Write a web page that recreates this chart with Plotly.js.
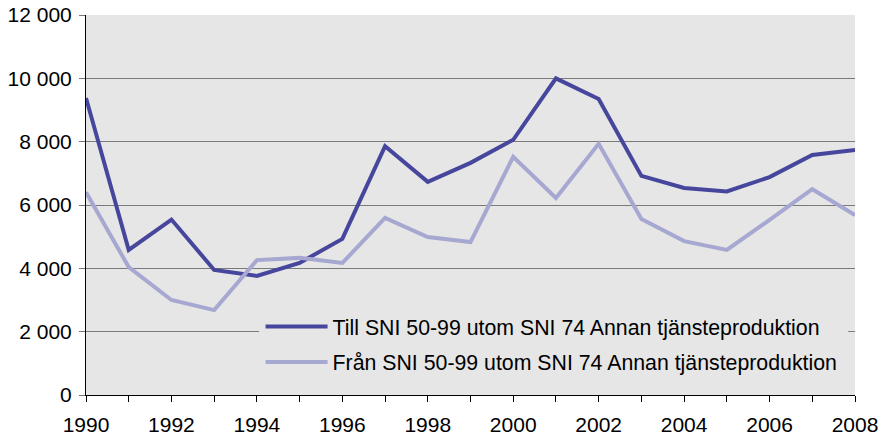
<!DOCTYPE html>
<html>
<head>
<meta charset="utf-8">
<script src="https://cdn.plot.ly/plotly-3.0.1.min.js"></script>
<style>html,body{margin:0;padding:0;background:#fff}#chart{width:880px;height:437px}</style>
</head>
<body>
<div id="chart"></div>
<script>
var years = [1990,1991,1992,1993,1994,1995,1996,1997,1998,1999,2000,2001,2002,2003,2004,2005,2006,2007,2008];
var till = [9380,4580,5540,3950,3760,4170,4930,7860,6730,7330,8060,10000,9350,6920,6540,6430,6880,7580,7740];
var fran = [6400,4040,3000,2680,4260,4330,4170,5590,4990,4830,7520,6220,7930,5560,4860,4580,5530,6500,5680];
var seriesNames = ["Till SNI 50-99 utom SNI 74 Annan tjänsteproduktion","Från SNI 50-99 utom SNI 74 Annan tjänsteproduktion"];
var yTicks = [0,2000,4000,6000,8000,10000,12000];

var xTickText = years.map(function(y){ return (y % 2 === 0) ? String(y) : ""; });

var font = "Liberation Sans, Arial, sans-serif";
var traces = [
  {x: years, y: till, type: "scatter", mode: "lines", name: seriesNames[0], legendgroup: "a",
   line: {color: "#46479c", width: 4}},
  {x: years, y: fran, type: "scatter", mode: "lines", name: seriesNames[1], legendgroup: "b",
   line: {color: "#a7a8d1", width: 4}}
];
var layout = {
  width: 880, height: 437,
  margin: {l: 86, r: 25, t: 15, b: 42},
  paper_bgcolor: "#ffffff",
  plot_bgcolor: "#e6e6e6",
  separators: ", ",
  showlegend: true,
  legend: {x: 0.227, y: 0.234, xanchor: "left", yanchor: "top", bgcolor: "rgba(0,0,0,0)",
           font: {family: font, size: 21.3, color: "#000"}, tracegroupgap: 5, itemwidth: 62},
  xaxis: {range: [1990, 2008], tickvals: years, ticktext: xTickText, ticks: "outside", ticklen: 6,
          tickcolor: "#000", showgrid: false, showline: true, linecolor: "#000", linewidth: 1,
          zeroline: false, ticklabelstandoff: 5,
          tickfont: {family: font, size: 21, color: "#000"}, fixedrange: true},
  yaxis: {range: [0, 12000], tickvals: yTicks, tickformat: ",d", ticks: "outside", ticklen: 6,
          tickcolor: "#777", showgrid: true, gridcolor: "#7a7a7a", gridwidth: 1, showline: true,
          linecolor: "#000", linewidth: 1, zeroline: false, ticklabelstandoff: 3,
          tickfont: {family: font, size: 21, color: "#000"}, fixedrange: true},
  shapes: [{type: "rect", xref: "x", yref: "y", x0: 1994.05, x1: 2007.84, y0: 150, y1: 3000,
            fillcolor: "#e6e6e6", line: {width: 0}, layer: "between"}]
};
Plotly.newPlot("chart", traces, layout, {displayModeBar: false, staticPlot: true});
</script>
</body>
</html>
